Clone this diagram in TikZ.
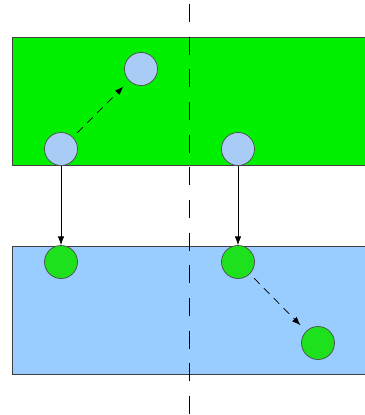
\documentclass[tikz,border=0pt]{standalone}
\usetikzlibrary{arrows.meta}

\definecolor{layergreen}{RGB}{0,240,0}
\definecolor{layerblue}{RGB}{153,204,255}
\definecolor{dotblue}{RGB}{168,204,245}
\definecolor{dotgreen}{RGB}{30,225,30}

\begin{document}
\begin{tikzpicture}[x=0.03cm, y=-0.03cm, >={Latex[length=2.6mm,width=1.9mm]},
  layer/.style={draw=black!75, line width=0.6pt},
  dot/.style={circle, draw=black!70, line width=0.6pt, minimum size=0.99cm,
              inner sep=0pt},
  hop/.style={->, dash pattern=on 2.4mm off 1.8mm, line width=0.6pt,
              shorten <=1.8mm, shorten >=2.4mm},
  drop/.style={->, line width=0.6pt}]
  \clip (0,0) rectangle (365,415);
  % the two layers
  \draw[layer, fill=layergreen] (12,37) rectangle (375,165);
  \draw[layer, fill=layerblue] (12,246) rectangle (375,374);
  % upper layer
  \node[dot, fill=dotblue] (upA) at (61,149) {};
  \node[dot, fill=dotblue] (upB) at (141,69) {};
  \node[dot, fill=dotblue] (upC) at (238,149) {};
  % lower layer
  \node[dot, fill=dotgreen] (loA) at (61,262) {};
  \node[dot, fill=dotgreen] (loC) at (238,262) {};
  \node[dot, fill=dotgreen] (loD) at (318,343) {};
  \draw[hop] (upA) -- (upB);
  \draw[hop] (loC) -- (loD);
  \draw[drop] (upA.south) -- (loA.north);
  \draw[drop] (upC.south) -- (loC.north);
  % the dividing line
  \coordinate (cutT) at (189.5,4);
  \coordinate (cutB) at (189.5,415);
  \draw[line width=0.8pt, dash pattern=on 0.54cm off 0.44cm] (cutT) -- (cutB);
\end{tikzpicture}
\end{document}
